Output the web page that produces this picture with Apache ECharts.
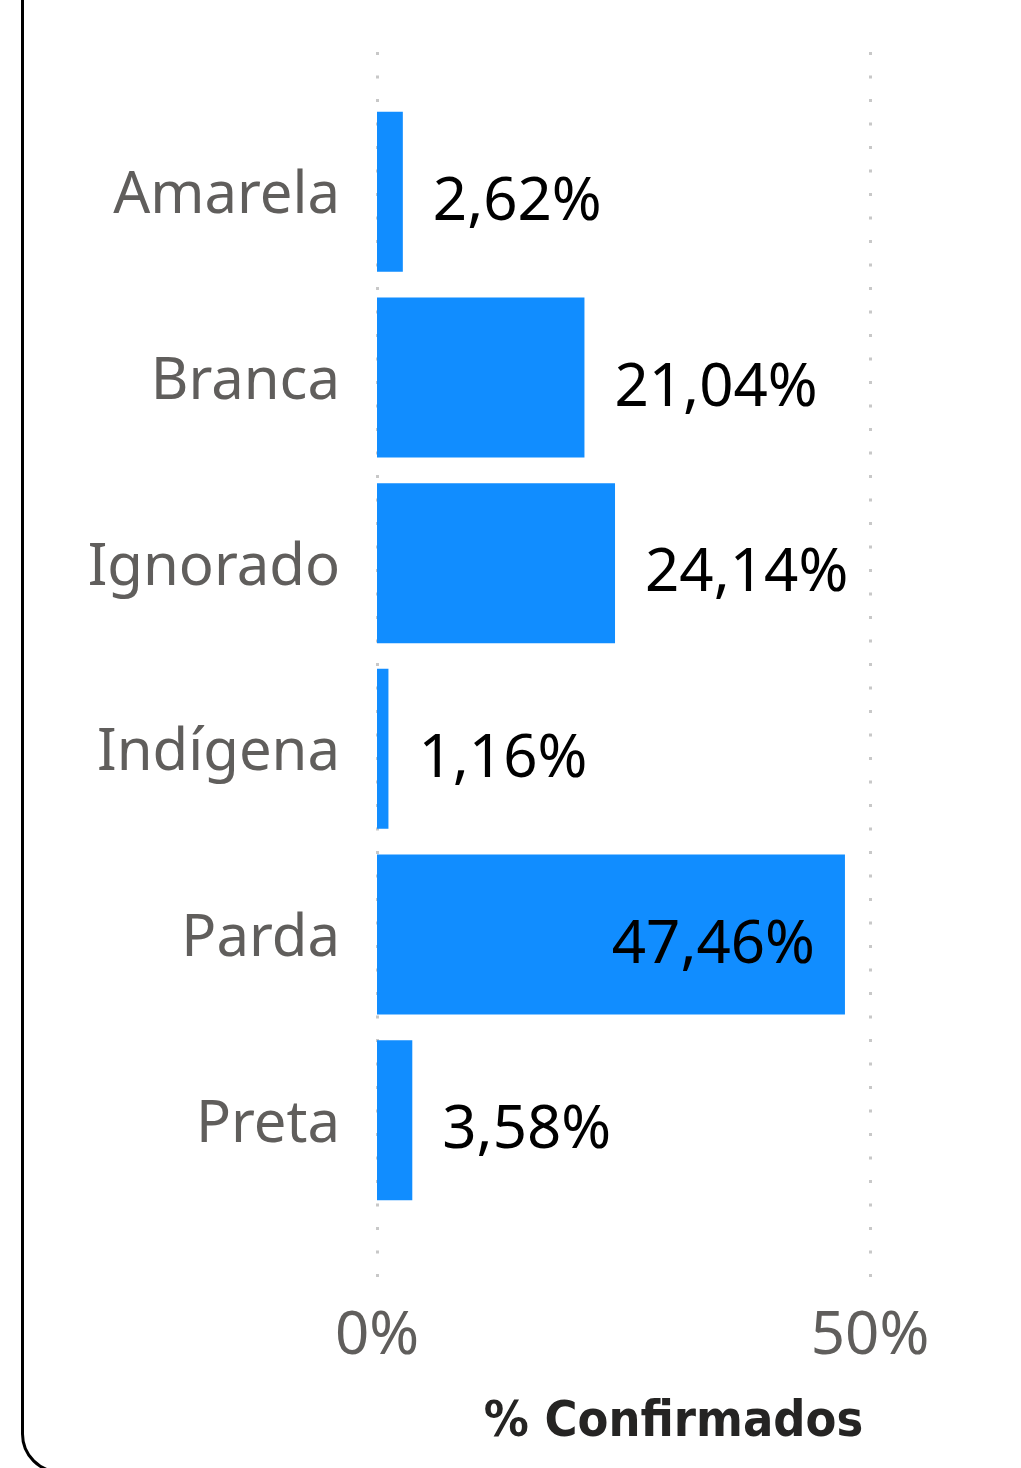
<!DOCTYPE html>
<html>
<head>
<meta charset="utf-8">
<script src="https://cdn.jsdelivr.net/npm/echarts@6/dist/echarts.min.js"></script>
<style>html,body{margin:0;padding:0;background:#fff}#c{width:1021px;height:1468px}</style>
</head>
<body>
<div id="c"></div>
<script>
const categories = ['Amarela', 'Branca', 'Ignorado', 'Indígena', 'Parda', 'Preta'];
const values = [2.62, 21.04, 24.14, 1.16, 47.46, 3.58];
const xTicks = [0, 50];

const fmt = v => v.toFixed(2).replace('.', ',') + '%';
const chart = echarts.init(document.getElementById('c'));
const FONT = '"Noto Sans", "Open Sans", sans-serif';

chart.setOption({
  animation: false,
  graphic: [{
    type: 'rect', silent: true,
    shape: { x: 22.5, y: -40, width: 1100, height: 1512, r: 38 },
    style: { fill: 'none', stroke: '#000', lineWidth: 3 }
  }],
  grid: [
    { left: 377, right: 151, top: 99, bottom: 255 },
    { left: 377, right: 151, top: 52, bottom: 190 }
  ],
  xAxis: [
    { gridIndex: 0, type: 'value', min: xTicks[0], max: xTicks[1], show: false },
    {
      gridIndex: 1, type: 'value', min: xTicks[0], max: xTicks[1], interval: 50,
      axisLine: { show: false }, axisTick: { show: false },
      splitLine: { show: true, lineStyle: { color: '#c8c8c8', width: 3, type: [3, 20.5] } },
      axisLabel: { formatter: '{value}%', color: '#605E5C', fontSize: 60, fontFamily: FONT, margin: 29 },
      name: '% Confirmados', nameLocation: 'middle', nameGap: 120,
      nameTextStyle: { color: '#252423', fontSize: 50, fontWeight: 'bold', fontFamily: '"DejaVu Sans Condensed", sans-serif', padding: [0, 0, 0, 100] }
    }
  ],
  yAxis: [
    {
      gridIndex: 0, type: 'category', data: categories, inverse: true,
      axisLine: { show: false }, axisTick: { show: false },
      axisLabel: {
        color: '#605E5C', fontSize: 58, fontFamily: FONT, margin: 37,
        formatter: v => '{c|' + v + '}',
        rich: { c: { color: '#605E5C', fontSize: 58, fontFamily: FONT, padding: [10, 0, 0, 0] } }
      }
    },
    { gridIndex: 1, type: 'value', min: 0, max: 1, show: false }
  ],
  series: [{
    type: 'bar', xAxisIndex: 0, yAxisIndex: 0, barWidth: 160,
    itemStyle: { color: '#118DFF' },
    data: values.map(v => ({
      value: v,
      label: v > 40 ? { position: 'insideRight', distance: 30 } : { position: 'right', distance: 30 }
    })),
    label: {
      show: true, color: '#000', fontSize: 60, fontFamily: FONT, offset: [0, 11],
      formatter: p => fmt(p.value)
    }
  }]
});
</script>
</body>
</html>
